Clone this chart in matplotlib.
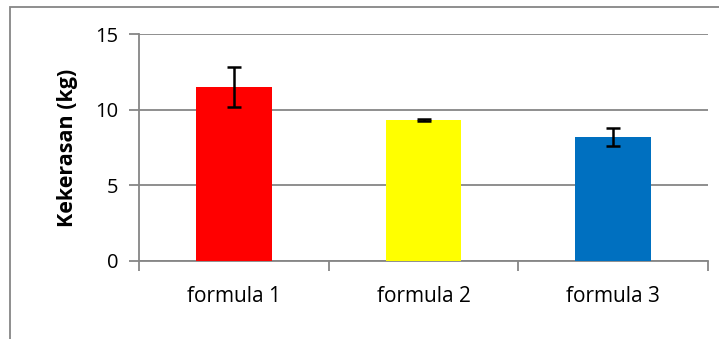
import numpy as np
import matplotlib.pyplot as plt
from matplotlib.patches import Rectangle

# data
categories = ['formula 1', 'formula 2', 'formula 3']
means = [11.5, 9.3, 8.2]
errors = [1.33, 0.08, 0.58]
colors = ['#ff0000', '#ffff00', '#0070c0']

plt.rcParams['font.family'] = ['Open Sans', 'DejaVu Sans']

fig = plt.figure(figsize=(7.19, 3.39), dpi=100)
ax = fig.add_axes([139/719, 1 - 261/339, (708 - 139)/719, (261 - 34)/339])

x = np.arange(len(categories))
ax.bar(x, means, width=0.4, color=colors, zorder=3)
ax.errorbar(x, means, yerr=errors, fmt='none', ecolor='black',
            elinewidth=1.8, capsize=5, capthick=1.8, zorder=4)

ax.set_xlim(-0.5, 2.5)
ax.set_ylim(0, 15)
ax.set_yticks([0, 5, 10, 15])
ax.yaxis.grid(True, color='#868686', linewidth=1.3, zorder=0)
ax.set_axisbelow(True)

# category ticks at boundaries, labels in centre
ax.set_xticks([-0.5, 0.5, 1.5, 2.5])
ax.set_xticklabels([])
ax.set_xticks(x, minor=True)
ax.set_xticklabels(categories, minor=True, fontsize=15)
ax.tick_params(axis='x', which='minor', length=0, pad=18)
ax.tick_params(axis='x', which='major', length=7, width=1.3, color='#868686', direction='out')
ax.tick_params(axis='y', length=7, width=1.3, color='#868686', labelsize=14.5, pad=8)

for s in ['top', 'right']:
    ax.spines[s].set_visible(False)
for s in ['left', 'bottom']:
    ax.spines[s].set_color('#868686')
    ax.spines[s].set_linewidth(1.3)

ax.set_ylabel('Kekerasan (kg)', fontsize=15.5, fontweight='bold', labelpad=12)

# chart border
fig.add_artist(Rectangle((10/719, -0.1), 1.2, 1 - 7/339 + 0.1, transform=fig.transFigure,
                         fill=False, edgecolor='#868686', linewidth=1.3))

plt.savefig('out.png', dpi=100)
